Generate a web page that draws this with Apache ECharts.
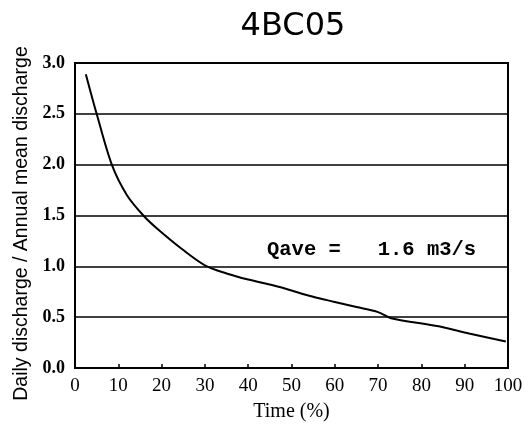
<!DOCTYPE html>
<html><head><meta charset="utf-8">
<script src="https://cdn.jsdelivr.net/npm/echarts@6/dist/echarts.min.js"></script>
<style>html,body{margin:0;padding:0;background:#fff}#c{width:531px;height:427px}</style>
</head><body><div id="c"></div>
<script>
var timePct = [2.5, 5, 8.5, 12, 16, 19, 25, 30, 35, 40, 47, 55, 60, 65, 70, 73, 84, 91, 99.5];
var ratio   = [2.89, 2.5, 2.0, 1.7, 1.49, 1.37, 1.16, 1.01, 0.93, 0.87, 0.8, 0.7, 0.65, 0.6, 0.55, 0.49, 0.41, 0.34, 0.26];
var yTicks = ['0.0','0.5','1.0','1.5','2.0','2.5','3.0'];
var titleText = '4BC05';
var noteText = 'Qave =   1.6 m3/s';

var chart = echarts.init(document.getElementById('c'));
chart.setOption({
  animation: false,
  backgroundColor: '#fff',
  title: {text: titleText, left: 288, top: 6, textAlign: 'center',
    textStyle: {fontFamily: 'DejaVu Sans', fontSize: 32, fontWeight: 'normal', color: '#000'}},
  grid: {left: 75, right: 23, top: 63, bottom: 57, show: true, borderColor: '#000', borderWidth: 2},
  xAxis: {type: 'value', min: 0, max: 100, interval: 10,
    name: 'Time (%)', nameLocation: 'middle', nameGap: 34,
    nameTextStyle: {fontFamily: 'Liberation Serif', fontSize: 20, color: '#000'},
    axisLine: {lineStyle: {color: '#000', width: 2}},
    axisTick: {inside: true, length: 4, lineStyle: {color: '#000', width: 1.5}},
    axisLabel: {fontFamily: 'Liberation Serif', fontSize: 19, color: '#000', margin: 9},
    splitLine: {show: false}},
  yAxis: {type: 'value', min: 0, max: 3, interval: 0.5,
    name: 'Daily discharge / Annual mean discharge', nameLocation: 'middle', nameGap: 41,
    nameTextStyle: {fontFamily: 'Liberation Sans', fontSize: 19.5, color: '#000', padding: [0, 16, 0, 0]},
    axisLine: {show: true, lineStyle: {color: '#000', width: 2}},
    axisTick: {show: false},
    axisLabel: {fontFamily: 'Liberation Serif', fontSize: 18, fontWeight: 'bold', color: '#000', margin: 10,
      formatter: function(v){ return yTicks[Math.round(v*2)]; }},
    splitLine: {show: true, lineStyle: {color: '#000', width: 1.5}}},
  series: [{type: 'line', data: timePct.map(function(x,i){return [x, ratio[i]];}),
    showSymbol: false, smooth: 0.3, lineStyle: {color: '#000', width: 2}}],
  graphic: [{type: 'text', left: 267, top: 239,
    style: {text: noteText, fontFamily: 'Liberation Mono', fontWeight: 'bold', fontSize: 20.5, fill: '#000'}}]
});
</script></body></html>
